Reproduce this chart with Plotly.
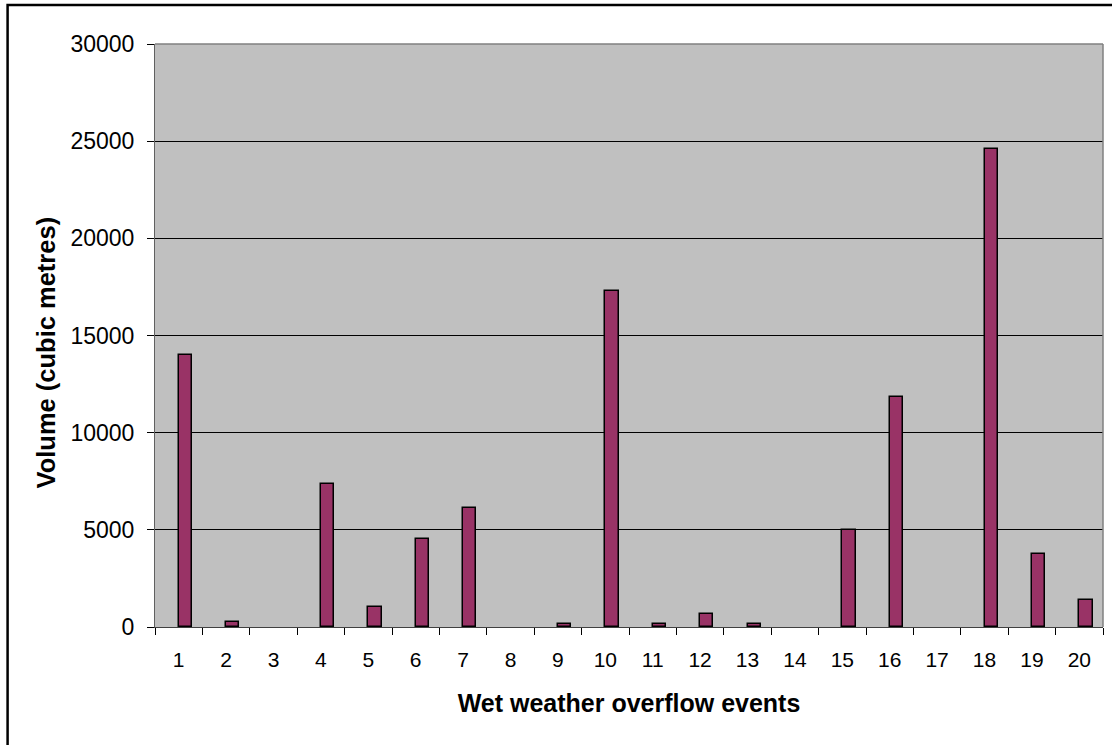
import plotly.graph_objects as go

events = [str(i) for i in range(1, 21)]
volumes = [14000, 260, 0, 7340, 1030, 4520, 6120, 0, 170, 17280,
           170, 650, 170, 0, 5000, 11860, 0, 24620, 3750, 1410]

y_ticks = [0, 5000, 10000, 15000, 20000, 25000, 30000]

FONT = "Arial, Liberation Sans, sans-serif"

fig = go.Figure()
fig.add_trace(go.Bar(
    x=events, y=volumes,
    offset=0, width=0.28,
    marker=dict(color="#993366",
                line=dict(color="#000000", width=[1.5 if v > 0 else 0 for v in volumes])),
    showlegend=False,
))

fig.update_layout(
    width=1112, height=745,
    margin=dict(l=155, r=9, t=44, b=118),
    paper_bgcolor="white",
    plot_bgcolor="#C0C0C0",
    font=dict(family=FONT, color="black"),
    bargap=0,
)

fig.update_xaxes(
    type="category",
    tickson="boundaries",
    ticks="outside", ticklen=7, tickcolor="#000000", tickwidth=1,
    showline=True, linecolor="#404040", linewidth=1, mirror=False,
    showgrid=False,
    tickfont=dict(size=21, family=FONT),
    ticklabelstandoff=14,
    title=dict(text="<b>Wet weather overflow events</b>", font=dict(size=25, family=FONT), standoff=24),
)

fig.update_yaxes(
    range=[0, 30000],
    tickvals=y_ticks,
    ticktext=[str(v) for v in y_ticks],
    ticks="outside", ticklen=7, tickcolor="#000000", tickwidth=1,
    showline=True, linecolor="#606060", linewidth=1,
    showgrid=True, gridcolor="#000000", gridwidth=1,
    zeroline=False,
    tickfont=dict(size=23, family=FONT),
    ticklabelstandoff=8,
)

# y-axis title
fig.add_annotation(text="<b>Volume (cubic metres)</b>", textangle=-90,
                   xref="paper", yref="paper", x=-0.1145, y=0.4717,
                   xanchor="center", yanchor="middle", showarrow=False,
                   font=dict(size=25.5, family=FONT, color="black"))

# plot-area top/right border (gray)
fig.add_shape(type="line", xref="paper", yref="paper", x0=0, x1=1, y0=1, y1=1,
              line=dict(color="#808080", width=1.5))
fig.add_shape(type="line", xref="paper", yref="paper", x0=1, x1=1, y0=0, y1=1,
              line=dict(color="#808080", width=1.5))

# outer chart frame
fig.add_shape(type="rect", xref="paper", yref="paper",
              x0=-0.1555, x1=1.02, y0=-0.22, y1=1.0667,
              line=dict(color="#000000", width=2.5), layer="above")

fig.write_html("out.html", config={"displayModeBar": False},
               post_script="document.body.style.margin='0';document.body.style.overflow='hidden';")
